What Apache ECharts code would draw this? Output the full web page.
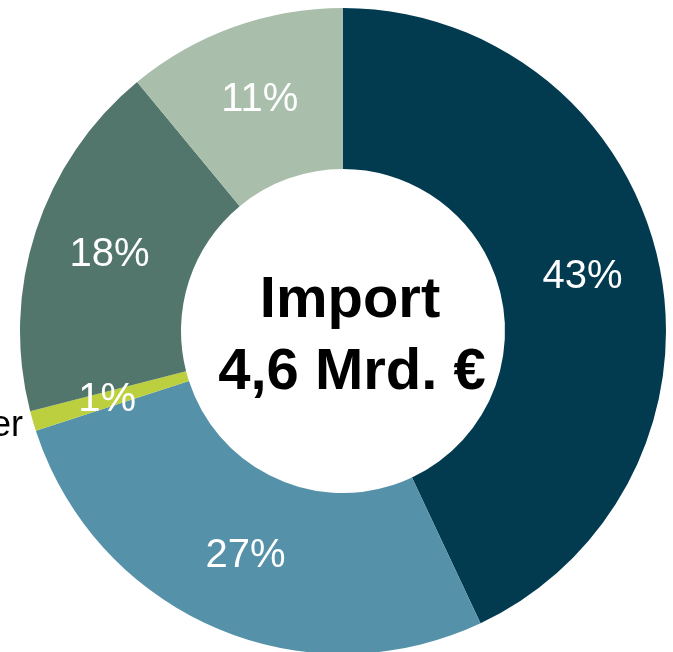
<!DOCTYPE html>
<html>
<head>
<meta charset="utf-8">
<style>
  html, body { margin: 0; padding: 0; background: #fff; }
  #chart { width: 673px; height: 652px; }
</style>
<script src="https://cdn.jsdelivr.net/npm/echarts@6/dist/echarts.min.js"></script>
</head>
<body>
<div id="chart"></div>
<script>
    // Anteile am Import (in %), im Uhrzeigersinn ab 12 Uhr
    var categories = ['A', 'B', 'Sonstiger', 'C', 'D'];
    var shares = [43, 27, 1, 18, 11];
    var colors = ['#023b50', '#5592aa', '#bccf3f', '#52766b', '#a9bfab'];

    var myChart = echarts.init(document.getElementById('chart'));

    var data = [];
    for (var i = 0; i < shares.length; i++) {
        data.push({ value: shares[i], name: categories[i], itemStyle: { color: colors[i] } });
    }

    myChart.setOption({
        animation: false,
        graphic: [
            {
                type: 'text', x: 350, y: 330,
                style: { text: 'Import', fill: '#000', font: 'bold 58px "Liberation Sans"', textAlign: 'center', textVerticalAlign: 'bottom' }
            },
            {
                type: 'text', x: 352, y: 402,
                style: { text: '4,6 Mrd. €', fill: '#000', font: 'bold 58px "Liberation Sans"', textAlign: 'center', textVerticalAlign: 'bottom' }
            },
            {
                type: 'text', x: 23, y: 444,
                style: { text: 'Sonstiger', fill: '#000', font: '36px "Liberation Sans"', textAlign: 'right', textVerticalAlign: 'bottom' }
            }
        ],
        series: [
            {
                name: 'Import',
                type: 'pie',
                center: [343, 331],
                radius: [162, 323],
                startAngle: 90,
                clockwise: true,
                avoidLabelOverlap: false,
                label: {
                    show: true,
                    position: 'inside',
                    formatter: '{c}%',
                    color: '#fff',
                    fontSize: 40,
                    fontFamily: 'Liberation Sans'
                },
                labelLine: { show: false },
                emphasis: { disabled: true },
                data: data
            }
        ]
    });
</script>
</body>
</html>
